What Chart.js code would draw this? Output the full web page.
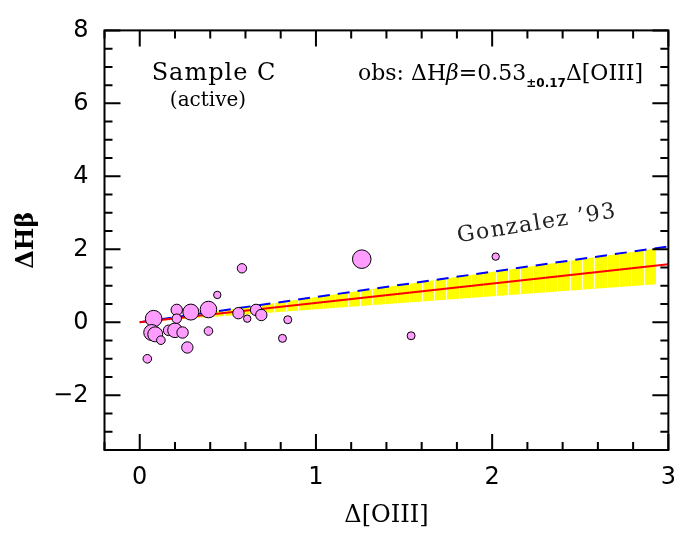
<!DOCTYPE html>
<html><head><meta charset="utf-8">
<script src="https://cdn.jsdelivr.net/npm/chart.js@4.4.0/dist/chart.umd.min.js"></script>
<style>html,body{margin:0;padding:0;background:#fff;}canvas{display:block;}</style>
</head><body>
<canvas id="c" width="689" height="537"></canvas>
<script>
// ---- data ----
const obsX = [0.079, 0.068, 0.088, 0.12, 0.043, 0.164, 0.20, 0.21, 0.21, 0.243, 0.27, 0.29, 0.39, 0.39, 0.44, 0.58, 0.56, 0.61, 0.66, 0.69, 0.84, 0.81, 1.26, 1.54, 2.02];
const obsY = [0.10, -0.28, -0.33, -0.49, -1.00, -0.22, -0.22, 0.34, 0.10, -0.28, -0.69, 0.28, 0.35, -0.24, 0.75, 1.48, 0.25, 0.10, 0.34, 0.20, 0.07, -0.44, 1.73, -0.37, 1.80];
const obsWeight = [8.3, 8, 7.5, 4.3, 4.3, 5.3, 7.3, 5.7, 4.7, 5.7, 5.7, 8, 8.3, 4.3, 3.7, 4.7, 5.7, 3.7, 5.7, 5.7, 4, 4, 9.3, 4, 3.7];
const fitX = [0, 3];
const fitY = [0, 1.59];
const gonzalezX = [0, 3];
const gonzalezY = [0, 2.08];
const bandX = [0, 2.93];
const bandLow = [0, 1.04];
const bandHigh = [0, 2.02];
const xTickValues = [0, 1, 2, 3];
const yTickValues = [-2, 0, 2, 4, 6, 8];
const xRange = [-0.2, 3];
const yRange = [-3.5, 8];

const pts = (xs, ys) => xs.map((v, i) => ({x: v, y: ys[i]}));
const fmt = v => v < 0 ? '\u2212' + Math.abs(v) : String(v);

const decor = {
  id: 'decor',
  afterDatasetDraw(chart, args) {
    if (chart.data.datasets[args.index].label !== 'bandHigh') return;
    const ctx = chart.ctx, x = chart.scales.x;
    const hi = args.meta.data, lo = chart.getDatasetMeta(args.index - 1).data;
    ctx.save();
    ctx.beginPath();
    hi.forEach((p, i) => i ? ctx.lineTo(p.x, p.y) : ctx.moveTo(p.x, p.y));
    for (let i = lo.length - 1; i >= 0; i--) ctx.lineTo(lo[i].x, lo[i].y);
    ctx.closePath();
    ctx.clip();
    ctx.strokeStyle = 'rgba(255,255,255,0.85)';
    ctx.lineWidth = 1;
    const end = bandX[bandX.length - 1];
    for (let v = end - 0.07; v > 0; v -= 0.07) {
      const px = Math.round(x.getPixelForValue(v)) + 0.5;
      ctx.beginPath(); ctx.moveTo(px, chart.chartArea.top); ctx.lineTo(px, chart.chartArea.bottom); ctx.stroke();
    }
    ctx.restore();
  },
  afterDraw(chart) {
    const {ctx, chartArea: a, scales: {x, y}} = chart;
    ctx.save();
    ctx.strokeStyle = '#000';
    ctx.lineWidth = 2;
    ctx.strokeRect(a.left, a.top, a.right - a.left, a.bottom - a.top);
    const major = 16, minor = 8;
    ctx.beginPath();
    for (let k = 0; k <= 16; k++) {
      const v = xRange[0] + k * 0.2;
      const isMaj = xTickValues.some(t => Math.abs(t - v) < 1e-6);
      const len = isMaj ? major : minor;
      const px = x.getPixelForValue(v);
      ctx.moveTo(px, a.bottom); ctx.lineTo(px, a.bottom - len);
      ctx.moveTo(px, a.top); ctx.lineTo(px, a.top + len);
    }
    for (let k = 0; k <= 23; k++) {
      const v = yRange[0] + k * 0.5;
      const isMaj = yTickValues.some(t => Math.abs(t - v) < 1e-6);
      const len = isMaj ? major : minor;
      const py = y.getPixelForValue(v);
      ctx.moveTo(a.left, py); ctx.lineTo(a.left + len, py);
      ctx.moveTo(a.right, py); ctx.lineTo(a.right - len, py);
    }
    ctx.stroke();

    // annotations
    ctx.fillStyle = '#000';
    ctx.textBaseline = 'alphabetic';
    ctx.textAlign = 'center';
    ctx.font = '24px "DejaVu Serif"';
    ctx.letterSpacing = '1px';
    ctx.fillText('Sample C', 214, 80);
    ctx.font = '20px "DejaVu Serif"';
    ctx.letterSpacing = '0px';
    ctx.fillText('(active)', 208, 106);

    ctx.textAlign = 'left';
    let tx = 358; const ty = 80;
    const seg = (t, f, dy) => { ctx.font = f; ctx.fillText(t, tx, ty + (dy || 0)); tx += ctx.measureText(t).width; };
    seg('obs: \u0394H', '22px "DejaVu Serif"');
    seg('\u03b2', 'italic 22px "DejaVu Serif"');
    seg('=0.53', '22px "DejaVu Serif"');
    seg('\u00b10.17', 'bold 12px "DejaVu Sans"', 7);
    seg('\u0394[OIII]', '22px "DejaVu Serif"');

    ctx.translate(537, 224);
    ctx.rotate(-9 * Math.PI / 180);
    ctx.textAlign = 'center';
    ctx.textBaseline = 'middle';
    ctx.font = '22px "DejaVu Serif"';
    ctx.letterSpacing = '1.5px';
    ctx.fillStyle = '#222';
    ctx.fillText("Gonzalez \u201993", 0, 0);
    ctx.restore();
  }
};

new Chart(document.getElementById('c'), {
  type: 'scatter',
  data: {
    datasets: [
      {label: 'bandLow', data: pts(bandX, bandLow), showLine: true, borderWidth: 0, pointRadius: 0, fill: false, order: 3},
      {label: 'bandHigh', data: pts(bandX, bandHigh), showLine: true, borderWidth: 0, pointRadius: 0, fill: '-1', backgroundColor: '#ffff00', order: 3},
      {label: 'Gonzalez', data: pts(gonzalezX, gonzalezY), showLine: true, borderColor: '#0000ff', borderWidth: 2, borderDash: [12, 8], pointRadius: 0, order: 2},
      {label: 'fit', data: pts(fitX, fitY), showLine: true, borderColor: '#ff0000', borderWidth: 2, pointRadius: 0, order: 1},
      {label: 'obs', data: pts(obsX, obsY), pointRadius: obsWeight, pointBackgroundColor: '#ff9cff', pointBorderColor: '#000', pointBorderWidth: 1, order: 0}
    ]
  },
  options: {
    responsive: false,
    animation: false,
    events: [],
    layout: {padding: {left: 8, top: 25, right: 17, bottom: 3}},
    plugins: {legend: {display: false}, tooltip: {enabled: false}},
    scales: {
      x: {
        type: 'linear', min: xRange[0], max: xRange[1],
        grid: {display: false, drawTicks: false},
        border: {display: false},
        afterBuildTicks: s => { s.ticks = xTickValues.map(v => ({value: v})); },
        afterFit: s => { s.height = 84; },
        ticks: {color: '#000', font: {family: '"DejaVu Sans"', size: 24}, padding: 13, callback: fmt, maxRotation: 0},
        title: {display: true, text: '\u0394[OIII]', color: '#000', font: {family: '"DejaVu Serif"', size: 24}}
      },
      y: {
        type: 'linear', min: yRange[0], max: yRange[1],
        grid: {display: false, drawTicks: false},
        border: {display: false},
        afterBuildTicks: s => { s.ticks = yTickValues.map(v => ({value: v})); },
        afterFit: s => { s.width = 96.5; },
        ticks: {color: '#000', font: {family: '"DejaVu Sans"', size: 24}, padding: 16, callback: fmt},
        title: {display: true, text: '\u0394H\u03b2', color: '#000', font: {family: '"DejaVu Serif"', size: 24, weight: 'bold'}}
      }
    }
  },
  plugins: [decor]
});
</script>
</body></html>
